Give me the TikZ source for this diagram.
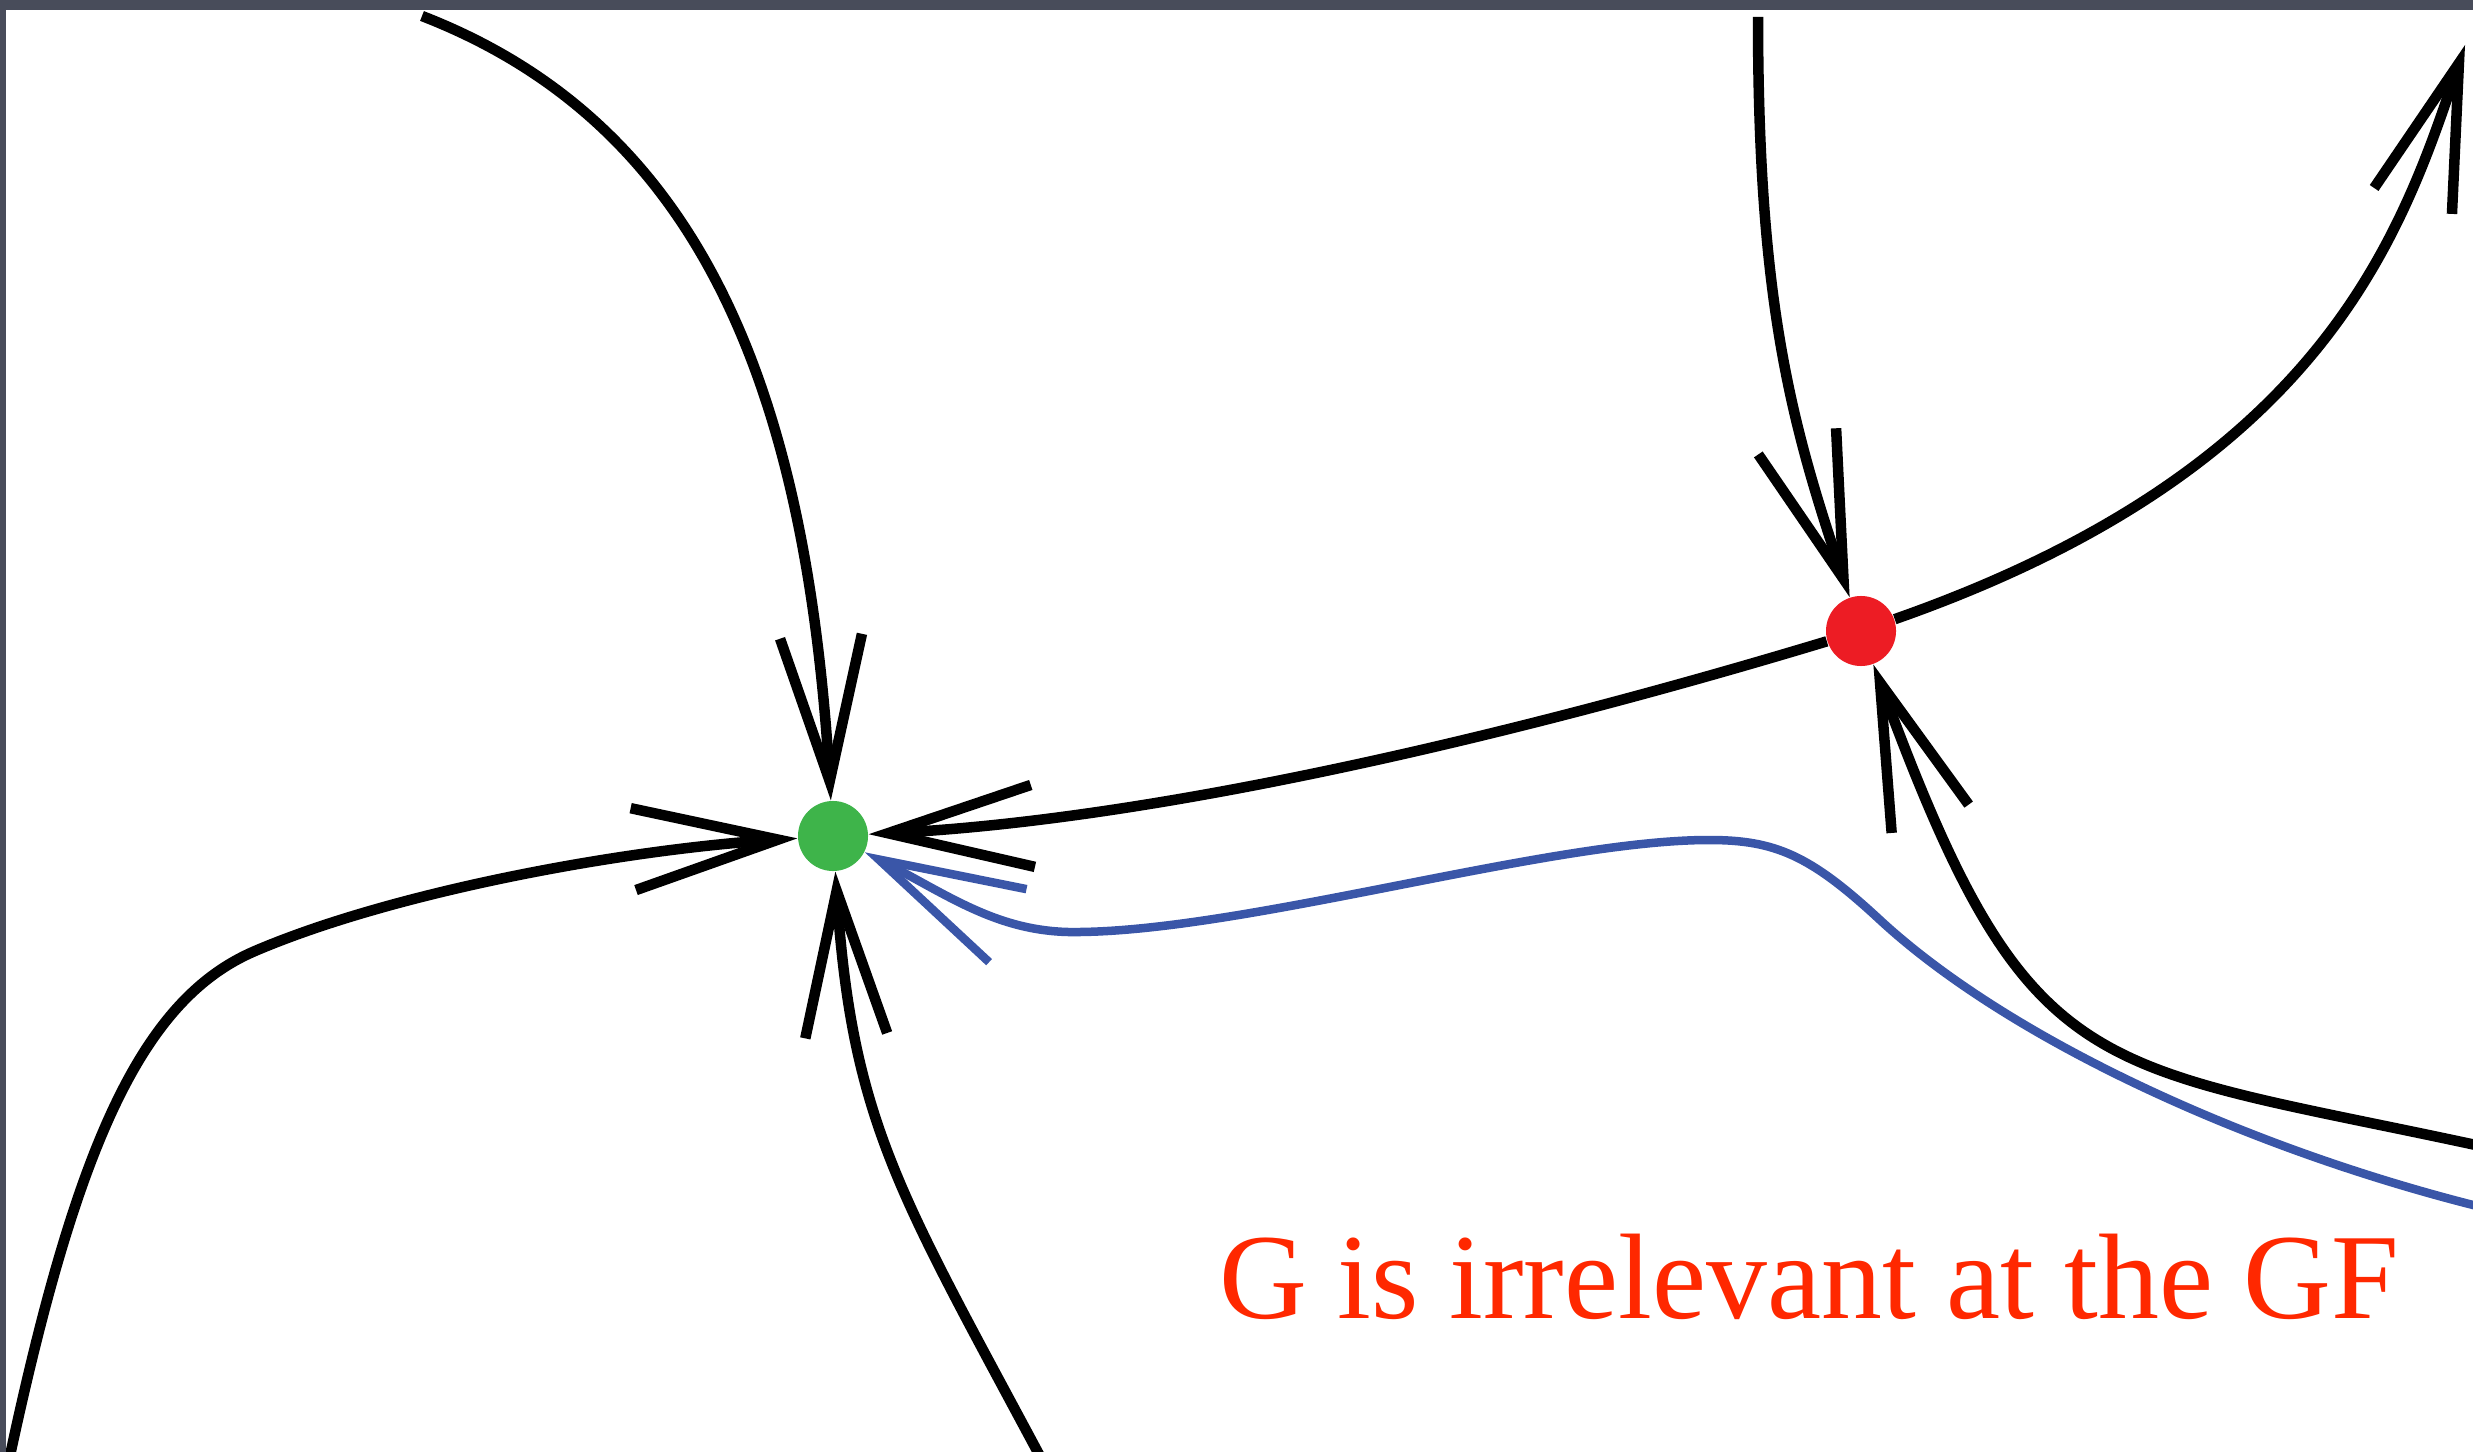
\documentclass[tikz,border=0pt]{standalone}
\usepackage{fontspec}
\setmainfont{Liberation Serif}
\usepackage{xcolor}
\usepackage{tikz}
\usetikzlibrary{arrows.meta}

\definecolor{gfgreen}{RGB}{62,180,74}
\definecolor{rfred}{RGB}{237,28,36}
\definecolor{flowblue}{RGB}{58,86,168}
\definecolor{labelred}{RGB}{255,40,0}
\definecolor{slate}{RGB}{72,76,90}

\begin{document}
\begin{tikzpicture}[x=0.01cm, y=-0.01cm,
  flow/.style={line width=0.105cm, -{Straight Barb[length=1.45cm, width=0.82cm]}},
  bflow/.style={flow, flowblue, line width=0.085cm},
  fp/.style={circle, inner sep=0pt, minimum size=0.7cm}]
\useasboundingbox (0,0) rectangle (2473,1452);
\fill[white] (0,0) rectangle (2473,1452);

\node[fp, fill=gfgreen] (gfp) at (833,836) {};
\node[fp, fill=rfred] (rfp) at (1861,631) {};

\coordinate (nw) at (422,16);
\coordinate (sw) at (8,1465);
\coordinate (s) at (1042,1460);
\coordinate (n) at (1758,17);
\coordinate (ne) at (2465,45);
\coordinate (e) at (2485,1147);
\coordinate (eb) at (2485,1208);

\draw[flow] (nw) .. controls (690,120) and (805,370) .. (gfp);
\draw[flow] (sw) .. controls (75,1150) and (140,1000) .. (255,951)
  .. controls (393,892) and (620,850) .. (gfp);
\draw[flow] (s) .. controls (901,1196) and (852,1123) .. (gfp);
\draw[flow] (rfp) .. controls (1500,740) and (1150,820) .. (gfp);
\draw[flow] (rfp) .. controls (2320,470) and (2400,240) .. (ne);
\draw[flow] (n) .. controls (1758,300) and (1790,420) .. (rfp);
\draw[flow] (e) .. controls (2089,1061) and (2030,1090) .. (rfp);
\draw[bflow] (eb) .. controls (2250,1150) and (2010,1040) .. (1880,920)
  .. controls (1810,855) and (1775,840) .. (1709,840)
  .. controls (1550,840) and (1250,930) .. (1080,932)
  .. controls (1000,934) and (950,896) .. (gfp);

\node[text=labelred, anchor=base west, inner sep=0pt, font=\fontsize{34.6}{40}\selectfont] (caption) at (1219,1318) {G is irrelevant at the GF};

\fill[slate] (0,0) rectangle (2473,10);
\fill[slate] (0,0) rectangle (6,1452);
\end{tikzpicture}
\end{document}
